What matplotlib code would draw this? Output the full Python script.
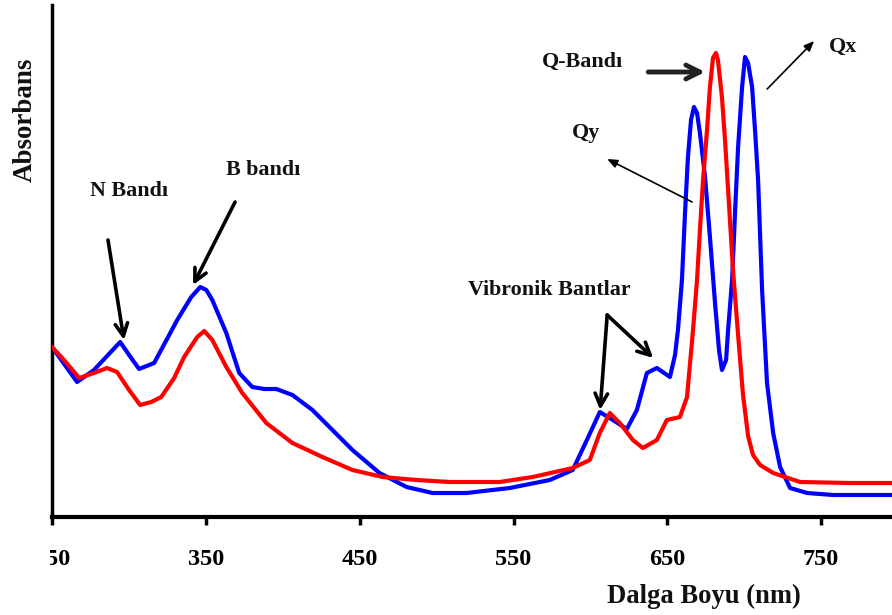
import matplotlib
matplotlib.use("Agg")
import matplotlib.pyplot as plt
from matplotlib.patches import Rectangle

# ---- data ----
wl_blue = [250, 266.3, 277.3, 285.8, 294.3, 300.1, 306.6, 316.4, 331.4, 340.5, 346.4, 350.3, 354.2, 363.3,
           371.7, 380.2, 388.0, 395.8, 406.3, 419.3, 432.3, 445.3, 462.9, 480.5, 497.4, 519.5, 547.5, 573.6,
           588.5, 597.7, 606.1, 614.6, 623.7, 630.2, 636.7, 643.2, 651.7, 655.0, 656.9, 659.5, 661.5, 663.4,
           665.4, 667.3, 669.3, 671.2, 674.5, 677.7, 681.0, 683.6, 685.5, 688.2, 689.5, 692.1, 694.0, 696.0,
           698.6, 700.5, 702.5, 705.1, 707.0, 709.0, 711.6, 714.8, 718.8, 723.3, 729.8, 740.9, 757.8, 800]
abs_blue = [0.340, 0.270, 0.294, 0.322, 0.350, 0.324, 0.296, 0.308, 0.394, 0.440, 0.460, 0.454, 0.434, 0.368,
            0.288, 0.260, 0.256, 0.256, 0.244, 0.214, 0.174, 0.134, 0.088, 0.060, 0.048, 0.048, 0.058, 0.074,
            0.094, 0.154, 0.210, 0.194, 0.176, 0.214, 0.288, 0.298, 0.280, 0.324, 0.374, 0.474, 0.608, 0.720,
            0.794, 0.820, 0.808, 0.768, 0.680, 0.560, 0.428, 0.334, 0.294, 0.314, 0.374, 0.474, 0.608, 0.740,
            0.860, 0.920, 0.908, 0.860, 0.774, 0.674, 0.454, 0.268, 0.168, 0.100, 0.058, 0.048, 0.044, 0.044]

wl_red = [250, 257.8, 267.6, 277.3, 285.8, 292.3, 300.1, 307.3, 314.5, 321.0, 329.4, 335.9, 344.4, 349.0,
          354.2, 363.3, 373.7, 389.3, 406.3, 425.8, 445.3, 464.8, 487.0, 508.5, 541.0, 562.5, 588.5, 599.6,
          606.1, 612.6, 619.1, 627.6, 634.1, 643.2, 649.7, 658.2, 662.8, 666.7, 669.3, 671.2, 673.2, 675.8,
          677.7, 679.7, 681.6, 682.9, 685.5, 687.5, 689.5, 692.7, 696.0, 699.2, 702.5, 705.7, 710.3, 718.8,
          736.3, 768.9, 800]
abs_red = [0.340, 0.314, 0.278, 0.288, 0.298, 0.290, 0.254, 0.224, 0.230, 0.240, 0.278, 0.320, 0.360, 0.372,
           0.354, 0.300, 0.248, 0.188, 0.148, 0.120, 0.094, 0.080, 0.074, 0.070, 0.070, 0.080, 0.098, 0.114,
           0.168, 0.208, 0.188, 0.154, 0.138, 0.154, 0.194, 0.200, 0.240, 0.374, 0.474, 0.574, 0.674, 0.774,
           0.860, 0.918, 0.928, 0.914, 0.840, 0.754, 0.654, 0.494, 0.364, 0.244, 0.162, 0.124, 0.104, 0.088,
           0.070, 0.068, 0.068]

xticks = [250, 350, 450, 550, 650, 750]
xtick_labels = ["250", "350", "450", "550", "650", "750"]

SERIF = ["Liberation Serif", "DejaVu Serif"]

W, H = 892, 615
fig = plt.figure(figsize=(W / 100, H / 100), dpi=100)
fig.patch.set_facecolor("white")

# axes: left spine at x=52px, bottom at y=517px, top at y=5px, extends past right edge
ax = fig.add_axes([52 / W, 98 / H, 923 / W, 512 / H])
ax.set_xlim(250, 850)
ax.set_ylim(0, 1.024)

ax.plot(wl_blue, abs_blue, color="#0000ff", lw=3.0, solid_joinstyle="round", solid_capstyle="round", zorder=3)
ax.plot(wl_red, abs_red, color="#ff0000", lw=3.0, solid_joinstyle="round", solid_capstyle="round", zorder=4)

for s in ("top", "right"):
    ax.spines[s].set_visible(False)
ax.spines["left"].set_linewidth(2.5)
ax.spines["bottom"].set_linewidth(3)
ax.set_yticks([])
ax.set_xticks(xticks)
ax.set_xticklabels(xtick_labels, fontfamily=SERIF, fontweight="bold", fontsize=17.5)
ax.tick_params(axis="x", direction="out", length=6, width=2.5, pad=17)

# annotations
tkw = dict(fontfamily=SERIF, fontweight="bold", fontsize=15.8, color="#111111", va="baseline", ha="left")
ax.text(274.7, 0.642, "N Bandı", **tkw)
ax.text(363.1, 0.684, "B bandı", **tkw)
ax.text(520.5, 0.444, "Vibronik Bantlar", **tkw)
ax.text(568.6, 0.900, "Q-Bandı", **tkw)
ax.text(588.1, 0.758, "Qy", **tkw)
ax.text(755.2, 0.930, "Qx", **tkw)

thick = dict(arrowstyle="->,head_length=0.9,head_width=0.45", color="black", lw=2.6, shrinkA=0, shrinkB=0)
ax.annotate("", xy=(296.8, 0.354), xytext=(286.4, 0.554), arrowprops=thick)
ax.annotate("", xy=(341.7, 0.464), xytext=(369.0, 0.630), arrowprops=thick)
ax.annotate("", xy=(606.3, 0.214), xytext=(610.9, 0.404), arrowprops=thick)
ax.annotate("", xy=(640.8, 0.318), xytext=(610.9, 0.404), arrowprops=thick)
qb = dict(arrowstyle="->,head_length=1.0,head_width=0.5", color="#222222", lw=3.5, shrinkA=0, shrinkB=0)
ax.annotate("", xy=(674.6, 0.890), xytext=(637.6, 0.890), arrowprops=qb)
thin = dict(arrowstyle="-|>,head_length=0.6,head_width=0.25", color="black", lw=1.2, shrinkA=0, shrinkB=0)
ax.annotate("", xy=(610.9, 0.716), xytext=(666.1, 0.630), arrowprops=thin)
ax.annotate("", xy=(745.4, 0.952), xytext=(714.9, 0.856), arrowprops=thin)

# white mask over the cropped left edge of the tick label row
fig.add_artist(Rectangle((0, 0), 50 / W, 95 / H, transform=fig.transFigure,
                         facecolor="white", edgecolor="none", zorder=5))

fig.text(25 / W, 1 - 120 / H, "Absorbans", rotation=90, ha="center", va="center",
         fontfamily=SERIF, fontweight="bold", fontsize=19.4, color="#111111", zorder=6)
fig.text(607 / W, 12 / H, "Dalga Boyu (nm)", ha="left", va="baseline",
         fontfamily=SERIF, fontweight="bold", fontsize=19.2, color="#111111", zorder=6)

fig.savefig("out.png", dpi=100, facecolor="white")
